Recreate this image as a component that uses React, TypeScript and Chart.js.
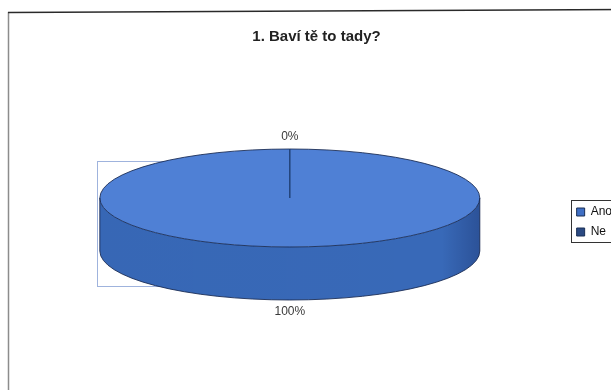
import React, { useEffect, useRef } from 'react';
import { Chart, registerables } from 'chart.js';

Chart.register(...registerables);

// ---- data ----
const categories: string[] = ['Ano', 'Ne'];
const values: number[] = [100, 0];
const titleText = '1. Baví tě to tady?';

// ---- styles ----
const sliceColors = ['#4f80d5', '#2d4f8c'];
const wallColors = ['#3869b8', '#233f72'];
const legendColors = ['#3f6fc4', '#2b4a82'];
const FONT = '"Liberation Sans", Arial, sans-serif';

// ellipse geometry of the 3-D pie (screen pixels)
const RX = 190;
const RY = 49;
const DEPTH = 53;
const TOP_CY = 198;
const LABEL_OFF = 12;

const pie3d = {
  id: 'pie3d',
  beforeDraw(chart: any) {
    const ctx = chart.ctx;
    ctx.save();
    ctx.fillStyle = '#ffffff';
    ctx.fillRect(0, 0, chart.width, chart.height);
    // outer frame (left + top)
    ctx.strokeStyle = '#8c8c8c';
    ctx.lineWidth = 1.5;
    ctx.beginPath();
    ctx.moveTo(8.5, 12);
    ctx.lineTo(8.5, chart.height);
    ctx.stroke();
    ctx.strokeStyle = '#2a2a2a';
    ctx.beginPath();
    ctx.moveTo(8, 12.5);
    ctx.lineTo(chart.width, 9.5);
    ctx.stroke();
    // plot-area remnant behind the pie
    ctx.strokeStyle = '#9fb3dd';
    ctx.lineWidth = 1;
    ctx.strokeRect(97.5, 161.5, 80, 125);
    ctx.restore();
  },
  beforeDatasetsDraw(chart: any) {
    const meta = chart.getDatasetMeta(0);
    const first = meta.data[0];
    if (!first) return;
    const ctx = chart.ctx;
    const cx = first.x;
    const cy = TOP_CY;
    const R = first.outerRadius;
    meta.data.forEach((arc: any, i: number) => {
      const { startAngle, endAngle } = arc.getProps(['startAngle', 'endAngle'], true);
      for (let k = -1; k <= 1; k++) {
        const a1 = Math.max(startAngle + 2 * Math.PI * k, 0);
        const a2 = Math.min(endAngle + 2 * Math.PI * k, Math.PI);
        if (a2 <= a1) continue;
        ctx.save();
        ctx.beginPath();
        ctx.ellipse(cx, cy, RX, RY, 0, a1, a2, false);
        ctx.ellipse(cx, cy + DEPTH, RX, RY, 0, a2, a1, true);
        ctx.closePath();
        ctx.fillStyle = wallColors[i];
        ctx.fill();
        const g = ctx.createLinearGradient(cx - RX, 0, cx + RX, 0);
        g.addColorStop(0, 'rgba(0,0,40,0.02)');
        g.addColorStop(0.9, 'rgba(0,0,40,0.0)');
        g.addColorStop(0.955, 'rgba(0,0,40,0.12)');
        g.addColorStop(1, 'rgba(0,0,40,0.22)');
        ctx.fillStyle = g;
        ctx.fill();
        ctx.restore();
      }
    });
    ctx.save();
    ctx.translate(cx, cy);
    ctx.scale(RX / R, RY / R);
    ctx.translate(-first.x, -first.y);
  },
  afterDatasetsDraw(chart: any) {
    const meta = chart.getDatasetMeta(0);
    const first = meta.data[0];
    if (!first) return;
    const ctx = chart.ctx;
    ctx.restore();
    const cx = first.x;
    const cy = TOP_CY;
    ctx.save();
    // outlines
    ctx.strokeStyle = 'rgba(22,40,80,0.85)';
    ctx.lineWidth = 1;
    ctx.beginPath();
    ctx.ellipse(cx, cy, RX, RY, 0, 0, 2 * Math.PI);
    ctx.stroke();
    ctx.beginPath();
    ctx.ellipse(cx, cy + DEPTH, RX, RY, 0, 0, Math.PI);
    ctx.stroke();
    ctx.beginPath();
    ctx.moveTo(cx - RX, cy);
    ctx.lineTo(cx - RX, cy + DEPTH);
    ctx.moveTo(cx + RX, cy);
    ctx.lineTo(cx + RX, cy + DEPTH);
    ctx.stroke();
    // slice seams
    ctx.strokeStyle = 'rgba(30,60,110,0.9)';
    meta.data.forEach((arc: any) => {
      const { startAngle } = arc.getProps(['startAngle'], true);
      const ex = cx + RX * Math.cos(startAngle);
      const ey = cy + RY * Math.sin(startAngle);
      ctx.beginPath();
      ctx.moveTo(cx, cy);
      ctx.lineTo(ex, ey);
      if (Math.sin(startAngle) > 0.01) ctx.lineTo(ex, ey + DEPTH);
      ctx.stroke();
    });
    // percentage labels
    const total = values.reduce((a, b) => a + b, 0);
    ctx.fillStyle = '#3a3a3a';
    ctx.font = '12px ' + FONT;
    ctx.textAlign = 'center';
    ctx.textBaseline = 'middle';
    meta.data.forEach((arc: any, i: number) => {
      const { startAngle, endAngle } = arc.getProps(['startAngle', 'endAngle'], true);
      const mid = (startAngle + endAngle) / 2;
      const s = Math.sin(mid);
      const x = cx + (RX + LABEL_OFF) * Math.cos(mid);
      const y = cy + (RY + LABEL_OFF) * s + (s > 0.01 ? DEPTH : 0);
      ctx.fillText(Math.round((values[i] / total) * 100) + '%', x, y);
    });
    ctx.restore();
  },
  afterDraw(chart: any) {
    const lg = chart.legend;
    if (!lg || !lg.legendHitBoxes || !lg.legendHitBoxes.length) return;
    const hb = lg.legendHitBoxes;
    const top = hb[0].top - 6;
    const bottom = hb[hb.length - 1].top + hb[hb.length - 1].height + 4;
    const ctx = chart.ctx;
    ctx.save();
    ctx.strokeStyle = '#333';
    ctx.lineWidth = 1;
    ctx.strokeRect(Math.round(lg.left) + 2.5, Math.round(top) + 0.5, 60, Math.round(bottom - top));
    ctx.restore();
  },
};

export default function App() {
  const ref = useRef<HTMLCanvasElement>(null);
  useEffect(() => {
    if (!ref.current) return;
    const chart = new Chart(ref.current, {
      type: 'pie',
      data: {
        labels: categories,
        datasets: [
          {
            data: values,
            backgroundColor: sliceColors,
            borderWidth: 0,
            clip: false as any,
          },
        ],
      },
      options: {
        responsive: false,
        devicePixelRatio: 1,
        animation: false,
        events: [],
        layout: { padding: { left: 11, right: 4, top: 28, bottom: 0 } },
        plugins: {
          title: {
            display: true,
            text: titleText,
            color: '#222',
            font: { family: FONT, size: 15, weight: 'bold' },
            padding: { top: 0, bottom: 10 },
          },
          legend: {
            position: 'right',
            labels: {
              boxWidth: 8,
              boxHeight: 8,
              padding: 8,
              color: '#111',
              font: { family: FONT, size: 12 },
              generateLabels: () =>
                categories.map((c, i) => ({
                  text: c,
                  fillStyle: legendColors[i],
                  strokeStyle: '#1a2f55',
                  lineWidth: 1,
                  hidden: false,
                  index: i,
                  fontColor: '#111',
                })),
            },
          },
          tooltip: { enabled: false },
        },
      },
      plugins: [pie3d],
    });
    return () => chart.destroy();
  }, []);
  return (
    <div
      style={{
        position: 'fixed',
        left: 0,
        top: 0,
        width: 611,
        height: 390,
        overflow: 'hidden',
        background: '#fff',
      }}
    >
      <canvas ref={ref} width={626} height={416} style={{ display: 'block', width: 626, height: 416 }} />
    </div>
  );
}
